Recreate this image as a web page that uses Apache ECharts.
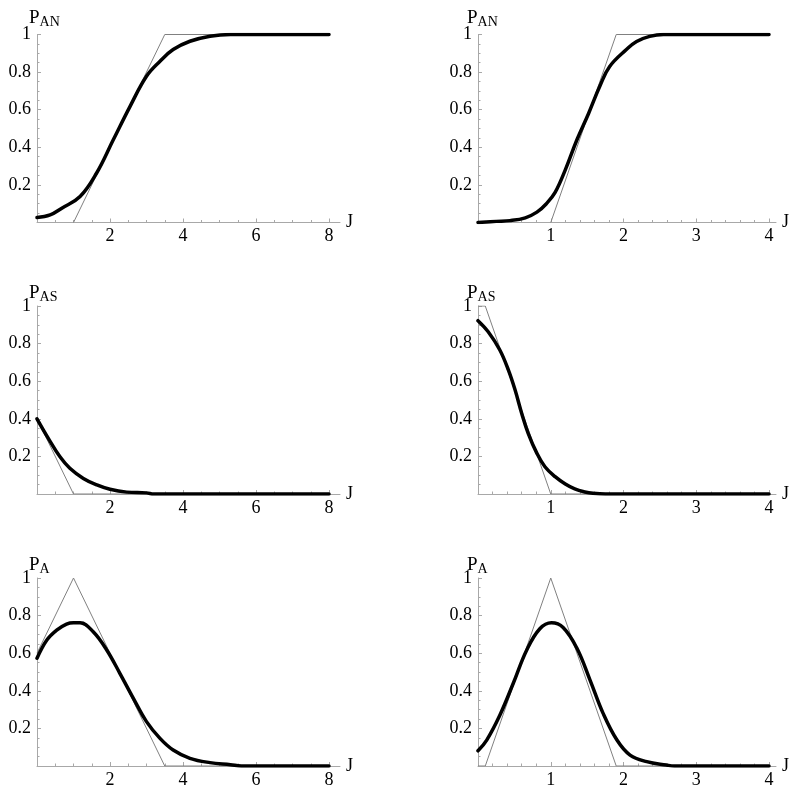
<!DOCTYPE html>
<html><head><meta charset="utf-8">
<script src="https://cdn.jsdelivr.net/npm/echarts@6/dist/echarts.min.js"></script>
<style>html,body{margin:0;padding:0;background:#fff}#c{width:800px;height:799px}</style>
</head><body><div id="c"></div>
<script>
// ---- Data ----
// Row 1: P_AN
const anWideJ = [0,0.36,0.68,1.18,1.63,2.09,2.55,3.0,3.37,3.73,4.19,4.74,5.3,8];
const anWideP = [0.026,0.04,0.076,0.138,0.262,0.44,0.618,0.778,0.858,0.92,0.964,0.991,1.0,1.0];
const anWideRefJ = [1,3.5,8];
const anWideRefP = [0,1,1];
const anNarrowJ = [0,0.25,0.44,0.65,0.81,0.94,1.06,1.20,1.36,1.52,1.68,1.81,2.04,2.18,2.36,2.55,4];
const anNarrowP = [0,0.006,0.01,0.025,0.055,0.1,0.16,0.28,0.44,0.58,0.73,0.83,0.92,0.963,0.99,1.0,1.0];
const anNarrowRefJ = [1,1.9,4];
const anNarrowRefP = [0,1,1];
// Row 2: P_AS
const asWideJ = [0,0.31,0.63,0.90,1.27,1.64,2.0,2.46,3.0,3.2,8];
const asWideP = [0.40,0.296,0.198,0.137,0.083,0.048,0.025,0.01,0.006,0,0];
const asWideRefJ = [0,1,8];
const asWideRefP = [0.4,0,0];
const asNarrowJ = [0,0.14,0.30,0.417,0.51,0.60,0.69,0.81,0.92,1.06,1.20,1.33,1.47,1.58,1.75,4];
const asNarrowP = [0.922,0.863,0.766,0.66,0.553,0.43,0.323,0.216,0.145,0.092,0.053,0.027,0.011,0.004,0,0];
const asNarrowRefJ = [0,0.1,1,4];
const asNarrowRefP = [1,1,0,0];
// Row 3: P_A
const aWideJ = [0,0.27,0.54,0.81,1.0,1.18,1.54,1.91,2.27,2.64,3.0,3.37,3.73,4.19,4.74,5.3,5.6,8];
const aWideP = [0.573,0.67,0.723,0.755,0.762,0.762,0.714,0.617,0.493,0.36,0.236,0.147,0.085,0.041,0.018,0.007,0,0];
const aWideRefJ = [0,1,3.5,8];
const aWideRefP = [0.6,1,0,0];
const aNarrowJ = [0,0.12,0.30,0.485,0.67,0.85,1.01,1.17,1.36,1.54,1.72,1.91,2.09,2.32,2.59,2.7,4];
const aNarrowP = [0.081,0.138,0.27,0.44,0.617,0.73,0.762,0.737,0.626,0.457,0.28,0.138,0.058,0.023,0.005,0,0];
const aNarrowRefJ = [0,0.1,1,1.9,4];
const aNarrowRefP = [0,0,1,0,0];

const yTicks = [0.2,0.4,0.6,0.8,1];
const wideXTicks = [2,4,6,8];
const narrowXTicks = [1,2,3,4];
const panelNames = ['AN','AS','A'];
const xName = 'J';

// ---- Layout ----
const FONT = 'Liberation Serif';
const rowTops = [34.5, 306, 578];
const titleTops = [4, 279, 551];
const H = 188;
const cols = [
  {left:37, width:292, ext:303, max:8, interval:2, minor:4, titleLeft:24},
  {left:478, width:291, ext:298, max:4, interval:1, minor:5, titleLeft:462}
];
const panels = [
  [anWideJ,anWideP,anWideRefJ,anWideRefP],[anNarrowJ,anNarrowP,anNarrowRefJ,anNarrowRefP],
  [asWideJ,asWideP,asWideRefJ,asWideRefP],[asNarrowJ,asNarrowP,asNarrowRefJ,asNarrowRefP],
  [aWideJ,aWideP,aWideRefJ,aWideRefP],[aNarrowJ,aNarrowP,aNarrowRefJ,aNarrowRefP]
];
const zip = (a,b)=>a.map((v,i)=>[v,b[i]]);
const AX = '#a8a8a8';
const T = {fontFamily:FONT, fontSize:18, fontWeight:'normal', color:'#000'};
const richT = {t:T};

const grid=[], xAxis=[], yAxis=[], series=[], title=[];
panels.forEach((p, i)=>{
  const r = Math.floor(i/2), c = cols[i%2];
  const g = grid.length;
  grid.push({left:c.left, top:rowTops[r], width:c.width, height:H});
  xAxis.push({type:'value', gridIndex:g, min:0, max:c.max, interval:c.interval,
    axisLine:{show:false},
    axisTick:{show:true, inside:true, length:4, lineStyle:{color:AX}},
    minorTick:{show:true, splitNumber:c.minor, length:2.5, lineStyle:{color:AX}},
    splitLine:{show:false},
    axisLabel:{margin:5, fontFamily:FONT, fontSize:18, color:'#000', rich:richT,
      formatter:v=> (c.max===8?wideXTicks:narrowXTicks).includes(v) ? '{t|'+v+'}' : ''}});
  yAxis.push({type:'value', gridIndex:g, min:0, max:1, interval:0.2,
    axisLine:{show:true, lineStyle:{color:AX, width:1}},
    axisTick:{show:true, inside:true, length:4, lineStyle:{color:AX}},
    minorTick:{show:true, splitNumber:4, length:2.5, lineStyle:{color:AX}},
    splitLine:{show:false},
    axisLabel:{margin:6, fontFamily:FONT, fontSize:18, color:'#000', rich:richT,
      formatter:v=>{const t=yTicks.find(x=>Math.abs(x-v)<1e-9); return t===undefined?'':'{t|'+(t===1?'1':t.toFixed(1))+'}';}}});
  const d = grid.length;
  grid.push({left:c.left, top:rowTops[r], width:c.ext, height:H});
  xAxis.push({type:'value', gridIndex:d, min:0, max:1,
    axisLine:{show:true, lineStyle:{color:AX, width:1}},
    axisTick:{show:false}, axisLabel:{show:false}, splitLine:{show:false},
    name:'{t|'+xName+'}', nameLocation:'end', nameGap:6,
    nameTextStyle:{fontFamily:FONT, fontSize:18, color:'#000', rich:richT}});
  yAxis.push({type:'value', gridIndex:d, min:0, max:1, show:false});
  series.push({type:'line', xAxisIndex:g, yAxisIndex:g, data:zip(p[2],p[3]),
    showSymbol:false, lineStyle:{color:'#808080', width:1}, z:2, silent:true});
  series.push({type:'line', xAxisIndex:g, yAxisIndex:g, data:zip(p[0],p[1]),
    showSymbol:false, smooth:0.4,
    lineStyle:{color:'#000', width:3.5, join:'round', cap:'round'}, z:3, silent:true});
  title.push({text:'{p|P}{s|'+panelNames[r]+'}', left:c.titleLeft, top:titleTops[r],
    textStyle:{fontWeight:'normal', fontFamily:FONT, rich:{
      p:{fontFamily:FONT, fontWeight:'normal', fontSize:19, color:'#000', verticalAlign:'bottom'},
      s:{fontFamily:FONT, fontWeight:'normal', fontSize:14, color:'#000', verticalAlign:'bottom', padding:[0,0,-1,0]}}}});
});

const chart = echarts.init(document.getElementById('c'), null, {renderer:'canvas'});
chart.setOption({animation:false, backgroundColor:'#fff',
  textStyle:{fontFamily:FONT, fontSize:18, color:'#000'},
  title, grid, xAxis, yAxis, series});
</script>
</body></html>
